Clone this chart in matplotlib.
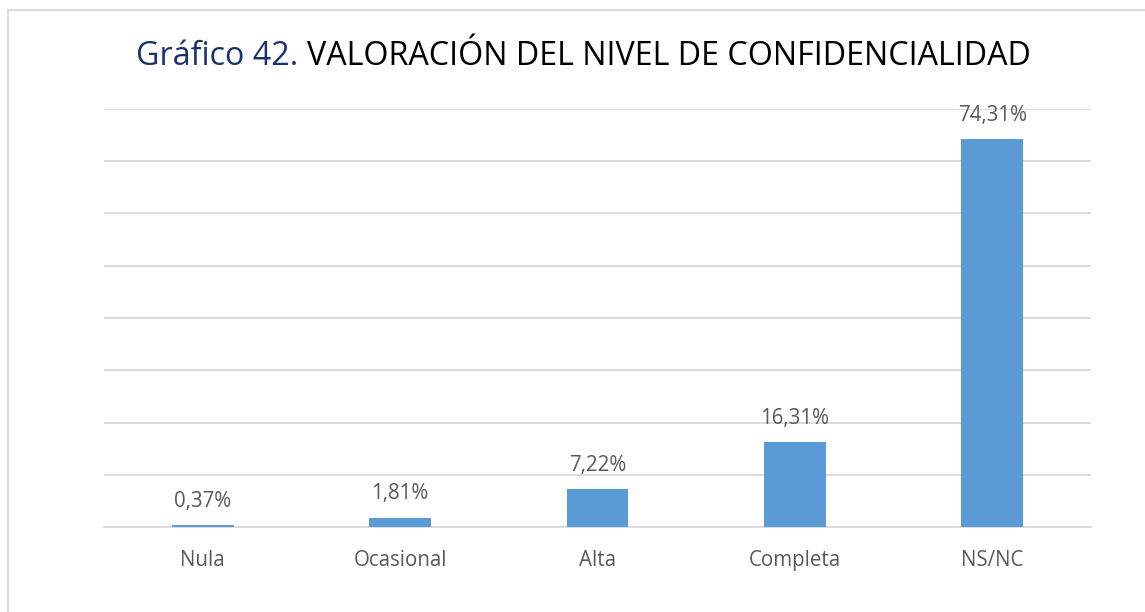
import matplotlib.pyplot as plt
from matplotlib.patches import Rectangle

categories = ["Nula", "Ocasional", "Alta", "Completa", "NS/NC"]
values = [0.37, 1.81, 7.22, 16.31, 74.31]
labels = ["0,37%", "1,81%", "7,22%", "16,31%", "74,31%"]

plt.rcParams['font.family'] = ['Open Sans', 'DejaVu Sans']

fig = plt.figure(figsize=(11.45, 6.12), dpi=100)
ax = fig.add_axes([104 / 1145, 85 / 612, 987 / 1145, 418 / 612])

x = range(len(categories))
ax.bar(x, values, width=0.314, color="#5b9bd5", zorder=3)
for xi, v, lab in zip(x, values, labels):
    ax.annotate(lab, (xi, v), xytext=(0, 13), textcoords="offset points",
                ha="center", va="baseline", fontsize=14.8, color="#595959")

ax.set_xlim(-0.5, len(categories) - 0.5)
ax.set_ylim(0, 80)
ax.set_yticks(range(0, 81, 10))
ax.yaxis.grid(True, color="#d9d9d9", linewidth=1.3, zorder=0)
ax.tick_params(axis="y", left=False, labelleft=False)
ax.tick_params(axis="x", length=0, pad=16.5, labelsize=14.8, labelcolor="#595959")
ax.set_xticks(list(x))
ax.set_xticklabels(categories)
for s in ["top", "right", "left"]:
    ax.spines[s].set_visible(False)
ax.spines["bottom"].set_color("#d9d9d9")
ax.spines["bottom"].set_linewidth(1.3)

# chart frame
fig.add_artist(Rectangle((8 / 1145, -0.1), 1.2, (612 - 10) / 612 + 0.1,
                         transform=fig.transFigure, fill=False,
                         edgecolor="#d9d9d9", linewidth=1.3))

# two-colour title
t1 = fig.text(136 / 1145, 1 - 65 / 612, "Gráfico 42. ", fontsize=23.2,
              color="#1a3370", va="baseline", ha="left")
fig.canvas.draw()
bb = t1.get_window_extent()
fig.text(bb.x1 / 1145, 1 - 65 / 612, "VALORACIÓN DEL NIVEL DE CONFIDENCIALIDAD",
         fontsize=23.2, color="black", va="baseline", ha="left")

fig.savefig("out.png", dpi=100)
